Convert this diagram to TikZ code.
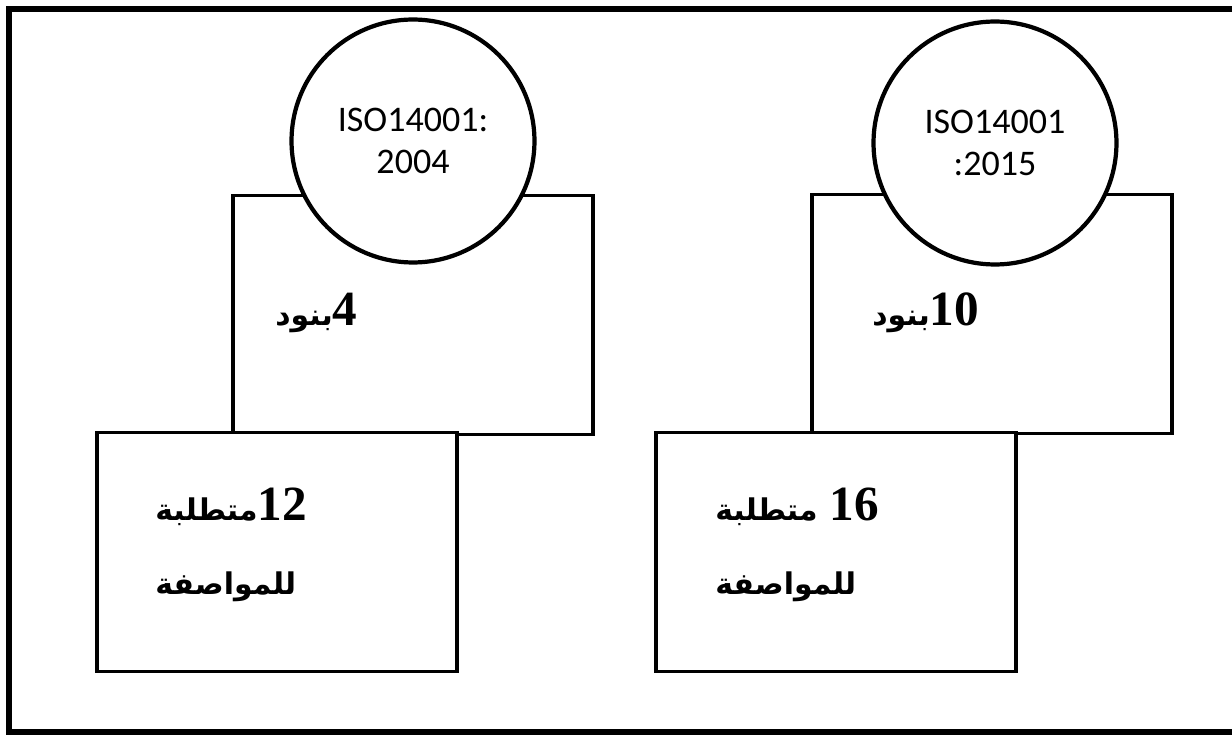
\documentclass[tikz,border=0pt]{standalone}
\usepackage{fontspec}
\setmainfont{Liberation Serif}
\newfontfamily\isofont{Carlito}
\newfontfamily\arabicfont[Script=Arabic]{DejaVu Sans}
\TeXXeTstate=1
\usetikzlibrary{positioning}
\newcommand{\artext}[1]{{\arabicfont\fontsize{17}{42}\selectfont #1}}
\tikzset{font=\bfseries\fontsize{28}{42}\selectfont}

\begin{document}
\begin{tikzpicture}[x=0.02cm,y=-0.02cm,
    clausebox/.style={draw,line width=2.1pt,fill=white,minimum width=7.2cm,minimum height=4.78cm},
    isocircle/.style={circle,draw,line width=2.4pt,fill=white,minimum size=4.86cm,inner sep=0pt,align=center,font=\isofont\fontsize{20.5}{24}\selectfont},
    arlabel/.style={anchor=west,inner sep=0pt,align=left}]
    \useasboundingbox (0,0) rectangle (1232,736);
    \draw[line width=3.4pt] (1240,9) -- (9,9) -- (9,732) -- (1240,732);

    \node[clausebox] (old) at (413,315) {};
    \node[clausebox] (new) at (992,314) {};

    \node[isocircle] (isoold) at (413,141) {ISO14001:\\2004};
    \node[isocircle] (isonew) at (995,143) {ISO14001\\:2015};

    \node[clausebox] (reqold) at (277,552) {};
    \node[clausebox] (reqnew) at (836,552) {};

    \node[arlabel] (clold) at (275,313) {\beginR\beginL4\endL\artext{بنود}\endR};
    \node[arlabel] (clnew) at (872,313) {\beginR\beginL10\endL\artext{بنود}\endR};

    \node[arlabel] (rqold) at (155,545) {\beginR\beginL12\endL\artext{متطلبة}\endR\\\beginR\artext{للمواصفة}\endR};
    \node[arlabel] (rqnew) at (715,545) {\beginR\beginL16\endL{} \artext{متطلبة}\endR\\\beginR\artext{للمواصفة}\endR};
  \end{tikzpicture}
\end{document}
